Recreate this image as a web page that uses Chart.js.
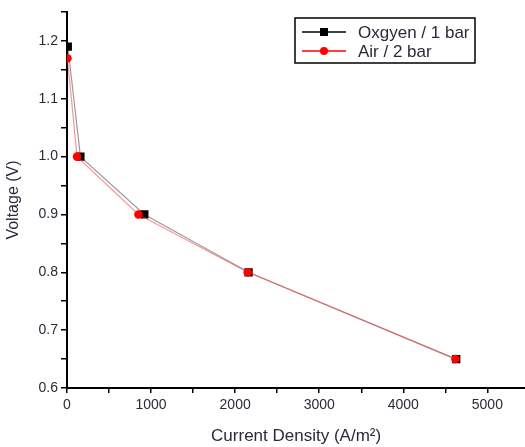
<!DOCTYPE html>
<html>
<head>
<meta charset="utf-8">
<script src="https://cdn.jsdelivr.net/npm/chart.js@4/dist/chart.umd.min.js"></script>
<style>
  html, body { margin: 0; padding: 0; background: #fff; }
  #wrap { width: 525px; height: 447px; position: relative; overflow: hidden; }
</style>
</head>
<body>
<div id="wrap"><canvas id="polarization"></canvas></div>
<script>
'use strict';

// data
var oxygenCurrent = [10, 160, 920, 2160, 4630];
var oxygenVoltage = [1.19, 1.00, 0.90, 0.80, 0.65];
var airCurrent = [5, 120, 850, 2150, 4620];
var airVoltage = [1.17, 1.00, 0.90, 0.80, 0.65];
var seriesLabels = ['Oxgyen / 1 bar', 'Air / 2 bar'];
var xTickValues = [0, 500, 1000, 1500, 2000, 2500, 3000, 3500, 4000, 4500, 5000];
var xTickLabels = ['0', '', '1000', '', '2000', '', '3000', '', '4000', '', '5000'];
var yTickValues = [0.6, 0.65, 0.7, 0.75, 0.8, 0.85, 0.9, 0.95, 1.0, 1.05, 1.1, 1.15, 1.2, 1.25];
var yTickLabels = ['0.6', '', '0.7', '', '0.8', '', '0.9', '', '1.0', '', '1.1', '', '1.2', ''];
var xTitle = 'Current Density (A/m\u00B2)';
var yTitle = 'Voltage (V)';

var toPoints = function(xs, ys){
    return xs.map(function(x, i){ return {x: x, y: ys[i]}; });
};

var FONT = '"Liberation Sans", Arial, sans-serif';
var TEXT = '#2a2a3a';

// boxed legend in the top right corner of the plot
var boxLegend = {
    id: 'boxLegend',
    afterDraw: function(chart){
        var ctx = chart.ctx;
        var left = 295, top = 18, w = 180, h = 45;
        ctx.save();
        ctx.fillStyle = '#fff';
        ctx.fillRect(left, top, w, h);
        ctx.strokeStyle = '#000';
        ctx.lineWidth = 1.5;
        ctx.strokeRect(left, top, w, h);

        var rows = [
            {y: 32, color: '#000', style: 'rect'},
            {y: 51, color: '#ff0000', style: 'circle'}
        ];
        ctx.font = '17px ' + FONT;
        ctx.textBaseline = 'middle';
        rows.forEach(function(r, i){
            ctx.strokeStyle = r.color;
            ctx.lineWidth = 1.3;
            ctx.beginPath();
            ctx.moveTo(302, r.y);
            ctx.lineTo(346, r.y);
            ctx.stroke();
            ctx.fillStyle = r.color;
            if (r.style === 'rect') {
                ctx.fillRect(320, r.y - 4, 8, 8);
            } else {
                ctx.beginPath();
                ctx.arc(324, r.y, 4, 0, Math.PI * 2);
                ctx.fill();
            }
            ctx.fillStyle = TEXT;
            ctx.fillText(seriesLabels[i], 358, r.y + 1);
        });
        ctx.restore();
    }
};

var fixedTicks = function(values){
    return function(s){
        s.ticks = values.map(function(v){ return {value: v}; });
    };
};

let Polarization = function(){

    var _draw = function(){
        var ctx = document.getElementById('polarization').getContext('2d');

        var config = {
            type: 'scatter',
            data: {
                datasets: [{
                    label: seriesLabels[1],
                    data: toPoints(airCurrent, airVoltage),
                    showLine: true,
                    borderColor: 'rgba(255,60,60,0.55)',
                    borderWidth: 1.2,
                    backgroundColor: '#ff0000',
                    pointBackgroundColor: '#ff0000',
                    pointBorderWidth: 0,
                    pointStyle: 'circle',
                    pointRadius: 4.3,
                    order: 0
                }, {
                    label: seriesLabels[0],
                    data: toPoints(oxygenCurrent, oxygenVoltage),
                    showLine: true,
                    borderColor: 'rgba(90,90,90,0.6)',
                    borderWidth: 1.2,
                    backgroundColor: '#000',
                    pointBackgroundColor: '#000',
                    pointBorderWidth: 0,
                    pointStyle: 'rect',
                    pointRadius: 5.8,
                    order: 1
                }]
            },
            options: {
                responsive: false,
                animation: false,
                layout: { padding: { top: 12, right: 0, left: 0, bottom: 0 } },
                plugins: {
                    legend: { display: false },
                    tooltip: { enabled: false }
                },
                scales: {
                    x: {
                        type: 'linear',
                        min: 0,
                        max: 5450,
                        afterBuildTicks: fixedTicks(xTickValues),
                        afterFit: function(s){ s.height = 59; },
                        border: { display: true, color: '#000', width: 2 },
                        grid: { drawOnChartArea: false, drawTicks: true, tickLength: 5, color: '#000', lineWidth: 1.5 },
                        ticks: {
                            autoSkip: false,
                            maxRotation: 0,
                            padding: 4,
                            color: TEXT,
                            font: { family: FONT, size: 14 },
                            callback: function(v, i){ return xTickLabels[i]; }
                        },
                        title: {
                            display: true,
                            text: xTitle,
                            color: TEXT,
                            font: { family: FONT, size: 17 },
                            padding: { top: 0, bottom: 0 }
                        }
                    },
                    y: {
                        type: 'linear',
                        min: 0.6,
                        max: 1.25,
                        afterBuildTicks: fixedTicks(yTickValues),
                        afterFit: function(s){ s.width = 67; },
                        border: { display: true, color: '#000', width: 2 },
                        grid: { drawOnChartArea: false, drawTicks: true, tickLength: 6, color: '#000', lineWidth: 1.5 },
                        ticks: {
                            autoSkip: false,
                            padding: 3,
                            color: TEXT,
                            font: { family: FONT, size: 14 },
                            callback: function(v, i){ return yTickLabels[i]; }
                        },
                        title: {
                            display: true,
                            text: yTitle,
                            color: TEXT,
                            font: { family: FONT, size: 16 },
                            padding: { top: 4, bottom: 0 }
                        }
                    }
                }
            },
            plugins: [boxLegend]
        };

        window.polarization = new Chart(ctx, config);
    };

    return {
        init: function(){
            // canvas a bit wider than the page so the x axis runs off the right edge
            var c = document.getElementById('polarization');
            c.width = 531;
            c.height = 447;
            _draw();
        }
    };

}();

document.addEventListener('DOMContentLoaded', function(){
    Polarization.init();
});
</script>
</body>
</html>
